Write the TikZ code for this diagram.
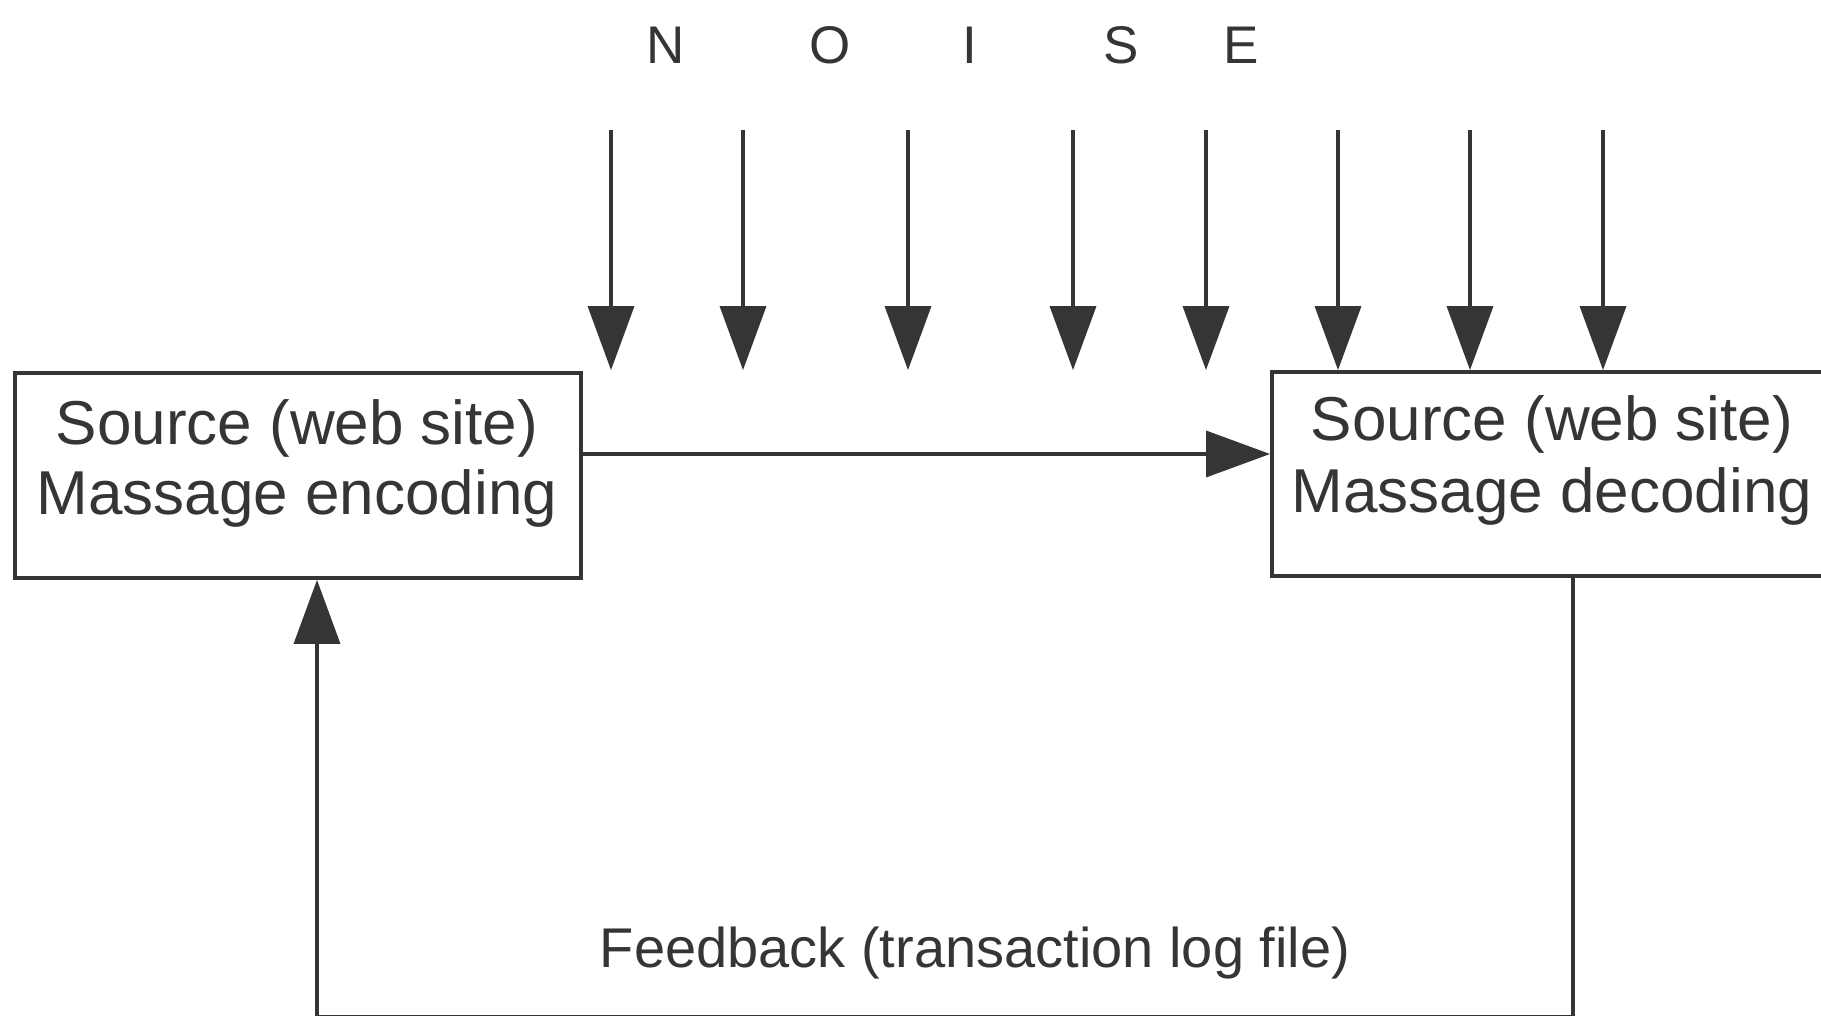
\documentclass[tikz,border=0pt]{standalone}
\usepackage{fontspec}
\setmainfont{Liberation Sans}
\usetikzlibrary{arrows.meta}
\definecolor{ink}{HTML}{353535}
\begin{document}
\begin{tikzpicture}[x=1pt,y=-1pt,
  line/.style={draw=ink,line width=3.5pt},
  box/.style={draw=ink,line width=3.8pt,inner sep=0pt},
  lbl/.style={text=ink,font=\fontsize{62}{72}\selectfont,inner sep=0pt,anchor=base},
  fb/.style={text=ink,font=\fontsize{56}{66}\selectfont,inner sep=0pt,anchor=base},
  nz/.style={text=ink,font=\fontsize{53}{60}\selectfont,inner sep=0pt,anchor=base},
  tip/.style={-{Triangle[width=46pt,length=64pt]}}
]
\useasboundingbox (0,0) rectangle (1821,1016);
\clip (0,0) rectangle (1821,1016);

% boxes
\node[box,minimum width=566pt,minimum height=205pt] (enc) at (298,475.5) {};
\node[box,minimum width=560pt,minimum height=204pt] (dec) at (1552,474) {};

% box texts
\node[lbl] (enc1) at (297,444) {Source (web site)};
\node[lbl] (enc2) at (297,514) {Massage encoding};
\node[lbl] (dec1) at (1552,440) {Source (web site)};
\node[lbl] (dec2) at (1552,512) {Massage decoding};

% noise label
\node[nz] (nN) at (666,64) {N};
\node[nz] (nO) at (830,64) {O};
\node[nz] (nI) at (970,64) {I};
\node[nz] (nS) at (1121,64) {S};
\node[nz] (nE) at (1241,64) {E};

% noise arrows
\foreach \x [count=\i] in {611,743,908,1073,1206,1338,1470,1603} {
  \coordinate (nt\i) at (\x,130);
  \draw[line,tip] (nt\i) -- (nt\i |- dec.north);
}

% message arrow
\coordinate (msg) at (0,454);
\draw[line,tip] (enc.east |- msg) -- (dec.west |- msg);

% feedback loop (bottom run lies at the page edge)
\coordinate (fr) at (1573,1017);
\coordinate (fl) at (317,1017);
\draw[line,line join=miter] (dec.south -| fr) -- (fr) -- (fl);
\draw[line,tip] (fl) -- (fl |- enc.south);

\node[fb] (fbt) at (975,967) {Feedback (transaction log file)};
\end{tikzpicture}
\end{document}
